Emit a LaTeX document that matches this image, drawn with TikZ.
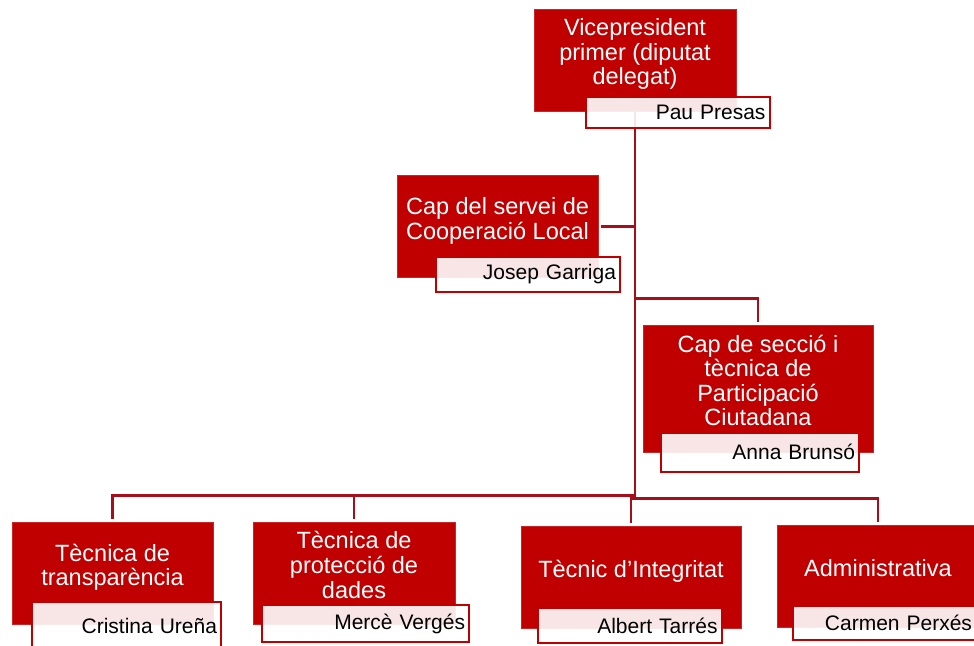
\documentclass[tikz,border=0pt]{standalone}
\usepackage{fontspec}
\setmainfont{Liberation Sans}
\usepackage{tikz}
\usepackage{xcolor}

\definecolor{boxred}{HTML}{C00000}
\definecolor{linkred}{HTML}{A80E1A}

% title text sits a little above the middle of its box
\newcommand{\roletext}[1]{\raisebox{4.5pt}[\height][\depth]{\begin{tabular}{@{}c@{}}#1\end{tabular}}}

\tikzset{
  rolebox/.style={fill=boxred, draw=boxred!85!white, line width=0.6pt, text=white,
    minimum width=202, minimum height=102, inner sep=0pt,
    font=\fontsize{23.5}{24.5}\selectfont},
  namebox/.style={fill=white, fill opacity=0.9, text opacity=1, draw=boxred, line width=2pt,
    minimum height=33, text width=176, align=right, inner xsep=4pt, inner ysep=0pt,
    font=\fontsize{21}{22}\selectfont},
  link/.style={draw=linkred, line width=2.8pt, shorten >=3pt}
}

\begin{document}
\begin{tikzpicture}[x=1pt, y=-1pt]
    \useasboundingbox (0,0) rectangle (974,645);

    % boxes
    \node[rolebox] (vp) at (635,60) {\roletext{Vicepresident\\primer (diputat\\delegat)}};
    \node[rolebox, minimum width=201] (coop) at (497.5,226.5) {\roletext{Cap del servei de\\Cooperació Local}};
    \node[rolebox, minimum width=230, minimum height=127] (part) at (758,388.5) {\roletext{Cap de secció i\\tècnica de\\Participació\\Ciutadana}};
    \node[rolebox, minimum width=201] (transp) at (112.5,573) {\roletext{Tècnica de\\transparència}};
    \node[rolebox] (prot) at (354,573) {\roletext{Tècnica de\\protecció de\\dades}};
    \node[rolebox, minimum width=220] (integ) at (631,577) {\roletext{Tècnic d’Integritat}};
    \node[rolebox] (admin) at (878,576) {\roletext{Administrativa}};

    % connectors
    \draw[link] (vp.south) |- (coop.east);
    \draw[link] (vp.south) -- ++(0,187) -| (part.north);
    \draw[link] (vp.south) -- ++(0,384) -| (transp.north);
    \draw[link] (vp.south) -- ++(0,384) -| (prot.north);
    \draw[link] (vp.south) -- ++(0,387) -| (integ.north);
    \draw[link] (vp.south) -- ++(0,387) -| (admin.north);

    % names
    \node[namebox, minimum height=31] (vpname) at (677.5,112.5) {Pau Presas};
    \node[namebox, minimum height=35] (coopname) at (528,274.5) {Josep Garriga};
    \node[namebox, text width=190, minimum height=39] (partname) at (760,452) {Anna Brunsó};
    \node[namebox, text width=181, minimum height=48] (transpname) at (126.5,626) {Cristina Ureña};
    \node[namebox, text width=199, minimum height=37] (protname) at (365.5,623.5) {Mercè Vergés};
    \node[namebox, minimum height=35] (integname) at (629.5,625.5) {Albert Tarrés};
    \node[namebox, text width=175, minimum height=34] (adminname) at (884.5,623) {Carmen Perxés};
\end{tikzpicture}
\end{document}
